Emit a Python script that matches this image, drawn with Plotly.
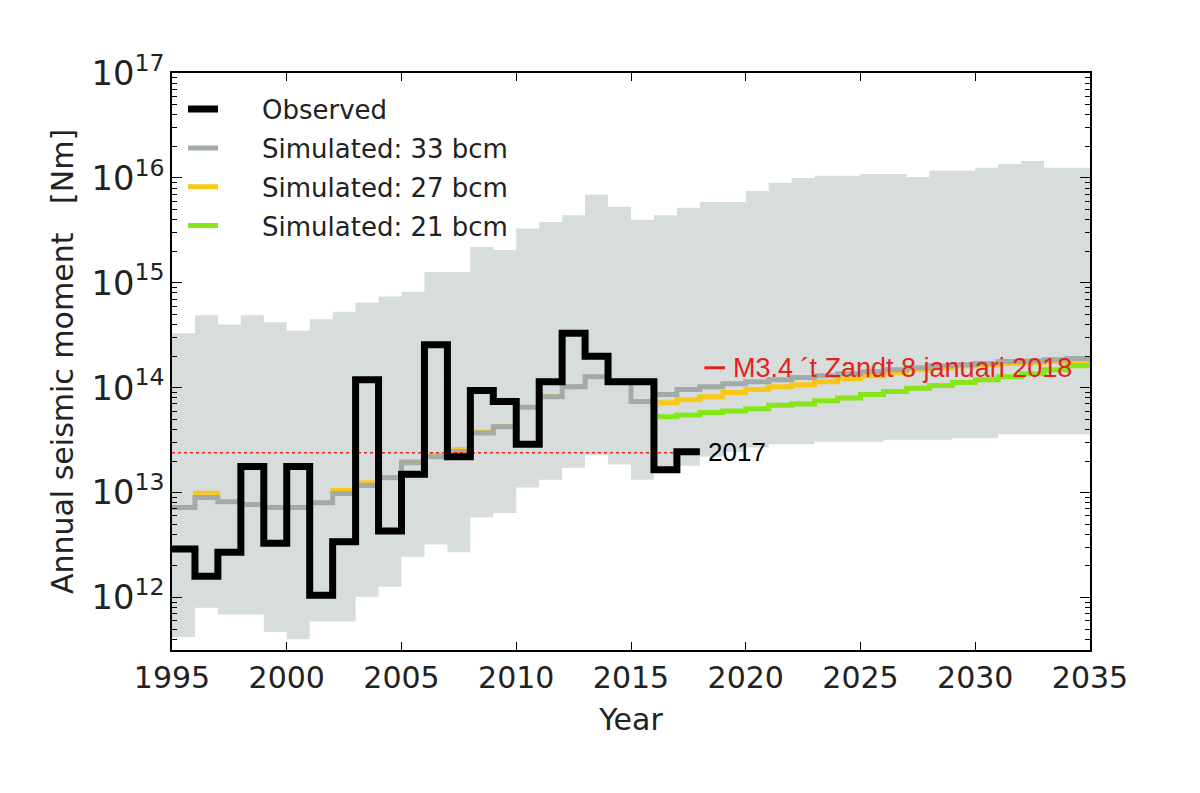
import plotly.graph_objects as go

# ---------------- data ----------------
obs_years = list(range(1995, 2018))
observed = [2.9e12, 1.6e12, 2.7e12, 1.77e13, 3.3e12, 1.77e13, 1.05e12, 3.4e12, 1.19e14,
            4.3e12, 1.5e13, 2.57e14, 2.2e13, 9.4e13, 7.4e13, 2.9e13, 1.14e14, 3.3e14,
            2.0e14, 1.14e14, 1.14e14, 1.65e13, 2.45e13]

band_years = list(range(1995, 2035))
band_upper = [3.3e14, 4.9e14, 4.0e14, 4.9e14, 4.2e14, 3.5e14, 4.5e14, 5.3e14, 6.5e14, 7.4e14,
              8.2e14, 1.27e15, 1.27e15, 2.2e15, 2.06e15, 3.3e15, 3.8e15, 4.4e15, 6.9e15, 5.3e15,
              4.0e15, 4.4e15, 5.2e15, 5.9e15, 5.9e15, 7.5e15, 9.0e15, 1.0e16, 1.05e16, 1.05e16,
              1.09e16, 1.09e16, 1.02e16, 1.17e16, 1.17e16, 1.25e16, 1.36e16, 1.45e16, 1.25e16, 1.25e16]
band_lower = [4.2e11, 8.0e11, 6.9e11, 6.9e11, 4.7e11, 4.0e11, 5.9e11, 5.9e11, 1.02e12, 1.27e12,
              2.45e12, 3.2e12, 2.7e12, 5.8e12, 6.4e12, 1.12e13, 1.33e13, 1.73e13, 2.3e13, 1.85e13,
              1.33e13, 1.65e13, 1.8e13, 2.2e13, 2.45e13, 2.7e13, 2.9e13, 2.9e13, 3.06e13, 3.06e13,
              3.06e13, 3.2e13, 3.2e13, 3.2e13, 3.3e13, 3.3e13, 3.6e13, 3.6e13, 3.6e13, 3.6e13]

sim33 = [7.2e12, 9.0e12, 8.2e12, 7.7e12, 7.2e12, 7.2e12, 8.0e12, 9.8e12, 1.17e13, 1.39e13,
         1.93e13, 2.2e13, 2.45e13, 3.7e13, 4.25e13, 6.5e13, 8.2e13, 1.02e14, 1.27e14, 1.12e14,
         7.4e13, 8.6e13, 9.6e13, 1.02e14, 1.09e14, 1.14e14, 1.19e14, 1.25e14, 1.3e14, 1.36e14,
         1.42e14, 1.48e14, 1.55e14, 1.62e14, 1.66e14, 1.7e14, 1.78e14, 1.8e14, 1.85e14, 1.9e14]

hist_years = list(range(1995, 2016))
sim27_hist = [7.2e12, 1.0e13, 8.2e12, 7.7e12, 7.2e12, 7.2e12, 8.0e12, 1.06e13, 1.25e13, 1.4e13,
              2.0e13, 2.3e13, 2.6e13, 3.8e13, 4.3e13, 6.6e13, 8.3e13, 1.03e14, 1.27e14, 1.12e14, 7.4e13]

fut_years = list(range(2016, 2035))
sim27_fut = [7.2e13, 7.7e13, 8.2e13, 9.0e13, 9.6e13, 1.02e14, 1.07e14, 1.14e14, 1.22e14, 1.3e14,
             1.39e14, 1.48e14, 1.55e14, 1.62e14, 1.66e14, 1.7e14, 1.74e14, 1.78e14, 1.8e14]
sim21_fut = [5.3e13, 5.5e13, 5.8e13, 6.0e13, 6.3e13, 6.8e13, 7.0e13, 7.5e13, 8.0e13, 8.6e13,
             9.2e13, 9.9e13, 1.05e14, 1.12e14, 1.19e14, 1.27e14, 1.36e14, 1.48e14, 1.62e14]

threshold_value = 2.4e13
threshold_span = [1995, 2018]
event_value = 1.55e14
event_span = [2018.2, 2019.1]
event_label = "M3.4 \u00b4t Zandt 8 januari 2018"
last_obs_label = "2017"

legend_names = ["Observed", "Simulated: 33 bcm", "Simulated: 27 bcm", "Simulated: 21 bcm"]


def step(xs, ys):
    """Close a per-year step series with its end year."""
    return list(xs) + [xs[-1] + 1], list(ys) + [ys[-1]]


BAND = "#d6dddc"
GRAY = "#a3abaa"
YELLOW = "#f7c818"
GREEN = "#86e61a"
RED = "#e2231a"
PAD = "\u2002\u2002\u2002"  # extra gap between legend symbol and text

fig = go.Figure()

# uncertainty band
bx, bu = step(band_years, band_upper)
_, bl = step(band_years, band_lower)
fig.add_trace(go.Scatter(x=bx, y=bu, mode="lines", line=dict(width=0, shape="hv"),
                         showlegend=False, hoverinfo="skip"))
fig.add_trace(go.Scatter(x=bx, y=bl, mode="lines", line=dict(width=0, shape="hv"),
                         fill="tonexty", fillcolor=BAND, showlegend=False, hoverinfo="skip"))

# yellow (27 bcm)
hx, hy = step(hist_years, sim27_hist)
fig.add_trace(go.Scatter(x=hx, y=hy, mode="lines", line=dict(color=YELLOW, width=4, shape="hv"),
                         showlegend=False, legendgroup="g3"))
fx, fy = step(fut_years, sim27_fut)
fig.add_trace(go.Scatter(x=fx, y=fy, mode="lines", line=dict(color=YELLOW, width=5, shape="hv"),
                         name=PAD + legend_names[2], legendgroup="g3", legendrank=3))
# green (21 bcm)
gx, gy = step(fut_years, sim21_fut)
fig.add_trace(go.Scatter(x=gx, y=gy, mode="lines", line=dict(color=GREEN, width=5, shape="hv"),
                         name=PAD + legend_names[3], legendgroup="g4", legendrank=4))
# gray (33 bcm)
sx, sy = step(band_years, sim33)
fig.add_trace(go.Scatter(x=sx, y=sy, mode="lines", line=dict(color=GRAY, width=5, shape="hv"),
                         name=PAD + legend_names[1], legendgroup="g2", legendrank=2))

# red dotted threshold line
fig.add_trace(go.Scatter(x=threshold_span, y=[threshold_value] * 2, mode="lines",
                         line=dict(color=RED, width=1.5, dash="dot"), showlegend=False))

# observed
ox, oy = step(obs_years, observed)
fig.add_trace(go.Scatter(x=ox, y=oy, mode="lines", line=dict(color="black", width=7, shape="hv"),
                         name=PAD + legend_names[0], legendgroup="g1", legendrank=1))

# event marker
fig.add_trace(go.Scatter(x=event_span, y=[event_value] * 2, mode="lines",
                         line=dict(color=RED, width=3), showlegend=False))

fig.add_annotation(x=2019.35, y=14.19, text=event_label, showarrow=False, xanchor="left",
                   yanchor="middle", font=dict(family="Liberation Sans, Arial", size=27, color=RED))
fig.add_annotation(x=2018.25, y=13.39, text=last_obs_label, showarrow=False, xanchor="left",
                   yanchor="middle", font=dict(family="Liberation Sans, Arial", size=26, color="black"))

title_font = dict(family="DejaVu Sans", size=30, color="#222222")

fig.update_layout(
    width=1184, height=777,
    margin=dict(l=164, r=102, t=65, b=135),
    paper_bgcolor="white", plot_bgcolor="white",
    showlegend=True,
    legend=dict(x=0.012, y=0.978, xanchor="left", yanchor="top", bgcolor="rgba(0,0,0,0)",
                font=dict(family="DejaVu Sans", size=26, color="#222222"),
                traceorder="grouped", tracegroupgap=2),
    xaxis=dict(range=[1995, 2035], tickvals=list(range(1995, 2036, 5)),
               ticks="inside", ticklen=8, tickwidth=1.2, tickcolor="black",
               showline=True, linecolor="black", linewidth=2, mirror="allticks",
               showgrid=False, zeroline=False,
               tickfont=dict(family="DejaVu Sans", size=30, color="#222222"),
               title=dict(text="Year", font=title_font, standoff=15)),
    yaxis=dict(type="log", range=[11.5, 17], dtick=1, exponentformat="power",
               ticks="inside", ticklen=10, tickwidth=1.2, tickcolor="black",
               minor=dict(ticks="inside", ticklen=5, tickcolor="black", dtick="D1", showgrid=False),
               showline=True, linecolor="black", linewidth=2, mirror="allticks",
               showgrid=False, zeroline=False,
               tickfont=dict(family="DejaVu Sans", size=27, color="#222222"),
               title=dict(text="Annual seismic moment \u00a0\u00a0[Nm]", font=title_font, standoff=9)),
)

fig.write_html("out.html")
